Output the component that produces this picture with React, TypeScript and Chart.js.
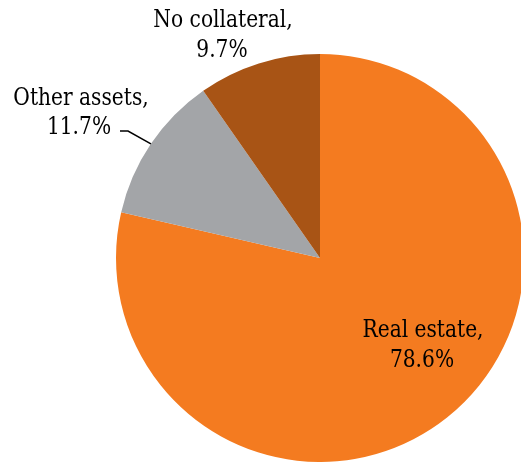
import React, { useEffect, useRef } from "react";
import { Chart, registerables } from "chart.js";

Chart.register(...registerables);

const categories = ["Real estate", "Other assets", "No collateral"];
const values = [78.6, 11.7, 9.7];
const colors = ["#F47B20", "#A3A5A8", "#A85415"];

const FAMILY = '"DejaVu Serif Condensed", "DejaVu Serif", serif';
const FONT = "23.5px " + FAMILY;

const labelPlugin = {
  id: "pieLabels",
  afterDatasetsDraw(chart: any) {
    const ctx = chart.ctx;
    const meta = chart.getDatasetMeta(0);
    const arcs = meta.data;
    if (!arcs.length) return;
    const cx = arcs[0].x;
    const cy = arcs[0].y;
    const R = arcs[0].outerRadius;
    ctx.save();
    ctx.font = FONT;
    const sx = Math.min(1, 121 / ctx.measureText("Real estate,").width);
    ctx.fillStyle = "#000";
    ctx.textAlign = "center";
    ctx.textBaseline = "alphabetic";
    const put = (t: string, x: number, y: number) => {
      ctx.save();
      ctx.translate(x, y);
      ctx.scale(sx, 1);
      ctx.fillText(t, 0, 0);
      ctx.restore();
    };
    const lines = (i: number) => [categories[i] + ",", values[i].toFixed(1) + "%"];
    const re = lines(0);
    put(re[0], cx + 103, cy + 79);
    put(re[1], cx + 102, cy + 109);
    const nc = lines(2);
    put(nc[0], cx - 97, cy - 231);
    put(nc[1], cx - 98, cy - 201);
    const oa = lines(1);
    put(oa[0], cx - 239, cy - 153);
    put(oa[1], cx - 241, cy - 124);
    const a = arcs[1];
    const mid = (a.startAngle + a.endAngle) / 2;
    const ex = cx + Math.cos(mid) * R;
    const ey = cy + Math.sin(mid) * R;
    ctx.strokeStyle = "#000";
    ctx.lineWidth = 1.5;
    ctx.beginPath();
    ctx.moveTo(cx - 200, cy - 127);
    ctx.lineTo(cx - 192, cy - 127);
    ctx.lineTo(ex, ey);
    ctx.stroke();
    ctx.restore();
  },
};

export default function App() {
  const ref = useRef<HTMLCanvasElement>(null);
  useEffect(() => {
    if (!ref.current) return;
    const chart = new Chart(ref.current, {
      type: "pie",
      data: {
        labels: categories,
        datasets: [
          {
            data: values,
            backgroundColor: colors,
            borderWidth: 0,
          },
        ],
      },
      options: {
        responsive: false,
        animation: false,
        devicePixelRatio: 1,
        radius: 204,
        layout: { padding: { left: 119, right: 0, top: 54, bottom: 0 } },
        plugins: {
          legend: { display: false },
          tooltip: { enabled: false },
        },
      } as any,
      plugins: [labelPlugin],
    });
    let alive = true;
    const fonts = (document as any).fonts;
    if (fonts && fonts.load) {
      fonts.load(FONT).then(() => {
        if (alive) chart.draw();
      });
    }
    return () => {
      alive = false;
      chart.destroy();
    };
  }, []);
  return (
    <div
      style={{
        position: "absolute",
        left: 0,
        top: 0,
        width: 521,
        height: 462,
        overflow: "hidden",
        background: "#fff",
      }}
    >
      <canvas ref={ref} width={521} height={462} style={{ display: "block" }} />
    </div>
  );
}
